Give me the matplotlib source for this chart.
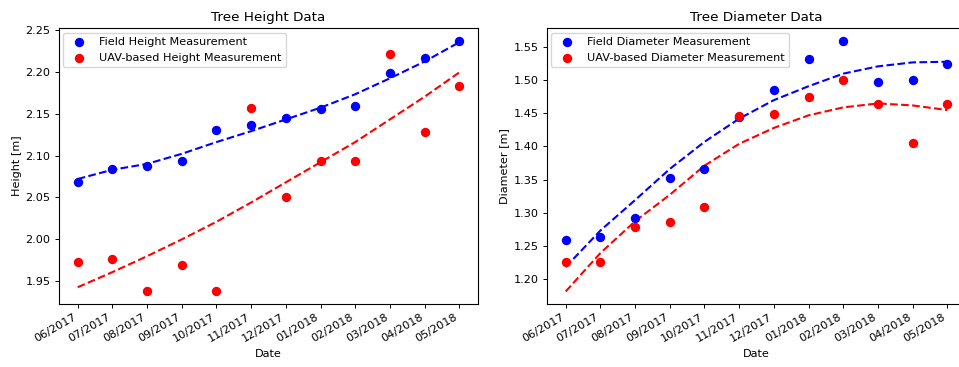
import numpy as np
import matplotlib
matplotlib.use('Agg')
import matplotlib.pyplot as plt

# month labels (x axis)
months = ['06/2017', '07/2017', '08/2017', '09/2017', '10/2017', '11/2017',
          '12/2017', '01/2018', '02/2018', '03/2018', '04/2018', '05/2018']

# tree height [m]
height_field = [2.069, 2.084, 2.088, 2.094, 2.130, 2.136,
                2.145, 2.155, 2.159, 2.198, 2.216, 2.237]
height_uav = [1.973, 1.977, 1.938, 1.969, 1.938, 2.157,
              2.051, 2.094, 2.094, 2.221, 2.128, 2.183]
height_field_trend = [2.072, 2.083, 2.090, 2.102, 2.116, 2.129,
                      2.143, 2.157, 2.173, 2.192, 2.212, 2.235]
height_uav_trend = [1.943, 1.961, 1.980, 2.000, 2.021, 2.044,
                    2.068, 2.092, 2.116, 2.143, 2.170, 2.199]

# tree diameter [m]
diam_field = [1.259, 1.263, 1.292, 1.352, 1.366, 1.445,
              1.485, 1.532, 1.560, 1.498, 1.501, 1.525]
diam_uav = [1.226, 1.226, 1.279, 1.286, 1.308, 1.446,
            1.449, 1.475, 1.500, 1.464, 1.405, 1.464]
diam_field_trend = [1.218, 1.273, 1.319, 1.366, 1.407, 1.442,
                    1.470, 1.491, 1.510, 1.521, 1.527, 1.528]
diam_uav_trend = [1.181, 1.239, 1.287, 1.327, 1.371, 1.404,
                  1.428, 1.447, 1.459, 1.465, 1.462, 1.455]

FS = 8.1

fig = plt.figure(figsize=(9.59, 3.67), dpi=100)
ax1 = fig.add_axes([0.0611, 0.1717, 0.4377, 0.752])
ax2 = fig.add_axes([0.5700, 0.1717, 0.4377, 0.752])

x = np.arange(len(months))


def draw(ax, field, uav, ftrend, utrend, title, ylabel, flab, ulab):
    ax.scatter(x, field, s=33, color='blue', label=flab, zorder=3)
    ax.scatter(x, uav, s=33, color='red', label=ulab, zorder=3)
    ax.plot(x, ftrend, '--', color='blue', lw=1.5)
    ax.plot(x, utrend, '--', color='red', lw=1.5)
    ax.set_title(title, fontsize=9.7, pad=5)
    ax.set_xlabel('Date', fontsize=FS, labelpad=3.5)
    ax.set_ylabel(ylabel, fontsize=FS, labelpad=3)
    ax.set_xticks(x)
    ax.set_xticklabels(months, rotation=30, ha='right', fontsize=FS)
    ax.tick_params(axis='both', labelsize=FS, length=2.9, width=0.7, pad=2.8)
    for sp in ax.spines.values():
        sp.set_linewidth(0.8)
    ax.legend(loc='upper left', fontsize=FS, borderaxespad=0.4)


draw(ax1, height_field, height_uav, height_field_trend, height_uav_trend,
     'Tree Height Data', 'Height [m]',
     'Field Height Measurement', 'UAV-based Height Measurement')
draw(ax2, diam_field, diam_uav, diam_field_trend, diam_uav_trend,
     'Tree Diameter Data', 'Diameter [m]',
     'Field Diameter Measurement', 'UAV-based Diameter Measurement')

# the reference is cut off on the right, so no right frame line there
ax2.spines['right'].set_visible(False)

fig.savefig('out.png', dpi=100)
